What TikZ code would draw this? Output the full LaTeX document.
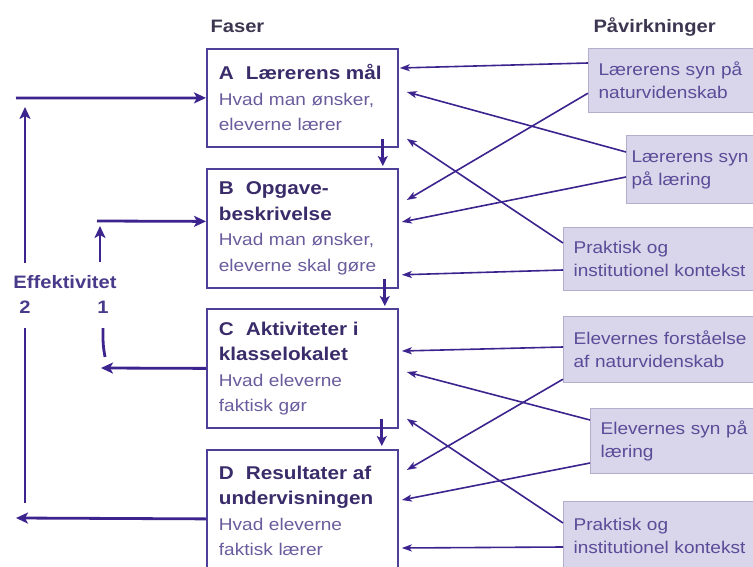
\documentclass[tikz,border=0pt]{standalone}
\usepackage{fontspec}
\setmainfont[FakeStretch=1.12]{Liberation Sans}
\usetikzlibrary{arrows.meta,calc}

\definecolor{linecol}{HTML}{3C238E}
\definecolor{boxcol}{HTML}{4E3F98}
\definecolor{titlecol}{HTML}{3A2C6A}
\definecolor{subcol}{HTML}{6A5C9C}
\definecolor{headcol}{HTML}{3D3650}
\definecolor{inflfill}{HTML}{D9D5EA}
\definecolor{inflborder}{HTML}{B3AECB}
\definecolor{infltext}{HTML}{5A4C98}
\definecolor{effcol}{HTML}{4A3A8A}

\begin{document}
\begin{tikzpicture}[x=1pt,y=-1pt,
  phase/.style={draw=boxcol, line width=1.8pt, anchor=north west,
    inner xsep=12, text width=167, align=left, text=subcol,
    font=\fontsize{17}{25.5}\selectfont},
  infl/.style={draw=inflborder, line width=1.2pt, fill=inflfill,
    anchor=north west, inner xsep=10, text width=200, align=left,
    text=infltext, font=\fontsize{17}{23}\selectfont},
  head/.style={anchor=base west, text=headcol, font=\bfseries\fontsize{18}{22}\selectfont},
  efftext/.style={anchor=base, text=effcol, font=\bfseries\fontsize{18}{22}\selectfont},
  thin/.style={draw=linecol, line width=1.6pt, -{Stealth[length=10pt,width=7pt,inset=2.5pt]}},
  fb/.style={draw=linecol, line width=2.8pt, -{Stealth[length=12pt,width=11pt,inset=3pt]}},
  fbline/.style={draw=linecol, line width=2.8pt},
  down/.style={draw=linecol, line width=3pt, -{Stealth[length=10pt,width=10pt,inset=2.5pt]}}
]
\useasboundingbox (0,0) rectangle (753,567);
\clip (0,0) rectangle (753,567);

\newcommand{\phtitle}[1]{{\bfseries\color{titlecol}\fontsize{18.5}{25.5}\selectfont #1}}

% column headers
\node[head] (faser) at (207,33) {Faser};
\node[head] (paav) at (590,33) {Påvirkninger};

% phases
\node[phase, minimum height=98] (A) at (206,48)
  {\phtitle{A\hspace{12pt}Lærerens mål}\\Hvad man ønsker,\\eleverne lærer};
\node[phase, minimum height=119] (B) at (206,168)
  {\phtitle{B\hspace{12pt}Opgave-}\\\phtitle{beskrivelse}\\Hvad man ønsker,\\eleverne skal gøre};
\node[phase, minimum height=119] (C) at (206,308)
  {\phtitle{C\hspace{12pt}Aktiviteter i}\\\phtitle{klasselokalet}\\Hvad eleverne\\faktisk gør};
\node[phase, minimum height=122] (D) at (206,449)
  {\phtitle{D\hspace{12pt}Resultater af}\\\phtitle{undervisningen}\\Hvad eleverne\\faktisk lærer};

% influences
\node[infl, minimum height=64] (R1) at (588,48) {Lærerens syn på\\naturvidenskab};
\node[infl, minimum height=68, inner xsep=5] (R2) at (626,135) {Lærerens syn\\på læring};
\node[infl, minimum height=63] (R3) at (563,227) {Praktisk og\\institutionel kontekst};
\node[infl, minimum height=66] (R4) at (563,316) {Elevernes forståelse\\af naturvidenskab};
\node[infl, minimum height=65] (R5) at (590,408) {Elevernes syn på\\læring};
\node[infl, minimum height=68] (R6) at (563,501) {Praktisk og\\institutionel kontekst};

% phase sequence
\draw[down] ($(A.south east)+(-16,-9)$) -- ($(B.north east)+(-16,-2)$);
\draw[down] ($(B.south east)+(-14,-10)$) -- ($(C.north east)+(-14,-2)$);
\draw[down] ($(C.south east)+(-17,-10)$) -- ($(D.north east)+(-17,-3)$);

% influence arrows
\draw[thin] ($(R1.north west)+(0,15)$) -- ($(A.north east)+(1,20)$);
\draw[thin] ($(R2.north west)+(0,17)$) -- ($(A.north east)+(8,44)$);
\draw[thin] ($(R1.south west)+(0,-20)$) -- ($(B.north east)+(8,32)$);
\draw[thin] ($(R2.north west)+(0,42)$) -- ($(B.north east)+(3,54)$);
\draw[thin] ($(R3.north west)+(0,16)$) -- ($(A.south east)+(8,-9)$);
\draw[thin] ($(R3.north west)+(0,43)$) -- ($(B.south east)+(3,-14)$);
\draw[thin] ($(R4.north west)+(0,31)$) -- ($(C.north east)+(3,43)$);
\draw[thin] ($(R5.north west)+(0,12)$) -- ($(C.north east)+(8,64)$);
\draw[thin] ($(R4.south west)+(0,-4)$) -- ($(D.north east)+(8,21)$);
\draw[thin] ($(R5.north west)+(0,55)$) -- ($(D.north east)+(3,51)$);
\draw[thin] ($(R6.north west)+(0,22)$) -- ($(C.south east)+(8,-10)$);
\draw[thin] ($(R6.north west)+(0,46)$) -- ($(D.north east)+(3,99)$);

% effectiveness loops
\node[efftext] (eff) at (65,288) {Effektivitet};
\node[efftext] (eff2) at (25,313) {2};
\node[efftext] (eff1) at (103,313) {1};

\coordinate (e2a) at (16,518);
\coordinate (e2b) at (25,503);
\coordinate (e2c) at (25,328);
\coordinate (e2d) at (25,263);
\coordinate (e2e) at (25,107);
\coordinate (e2f) at (16,98);
\draw[fb] ([yshift=-8]D.west) -- (e2a);
\draw[fbline] (e2b) -- (e2c);
\draw[fb] (e2d) -- (e2e);
\draw[fb] (e2f) -- (A.west);

\coordinate (e1a) at (101,368);
\coordinate (e1b) at (105,357);
\coordinate (e1c) at (103,328);
\coordinate (e1d) at (100,262);
\coordinate (e1e) at (100,226);
\coordinate (e1f) at (97,221);
\draw[fb] (C.west) -- (e1a);
\draw[fbline] (e1b) .. controls (103,345) .. (e1c);
\draw[fb] (e1d) -- (e1e);
\draw[fb] (e1f) -- ([yshift=7]B.west);
\end{tikzpicture}
\end{document}
